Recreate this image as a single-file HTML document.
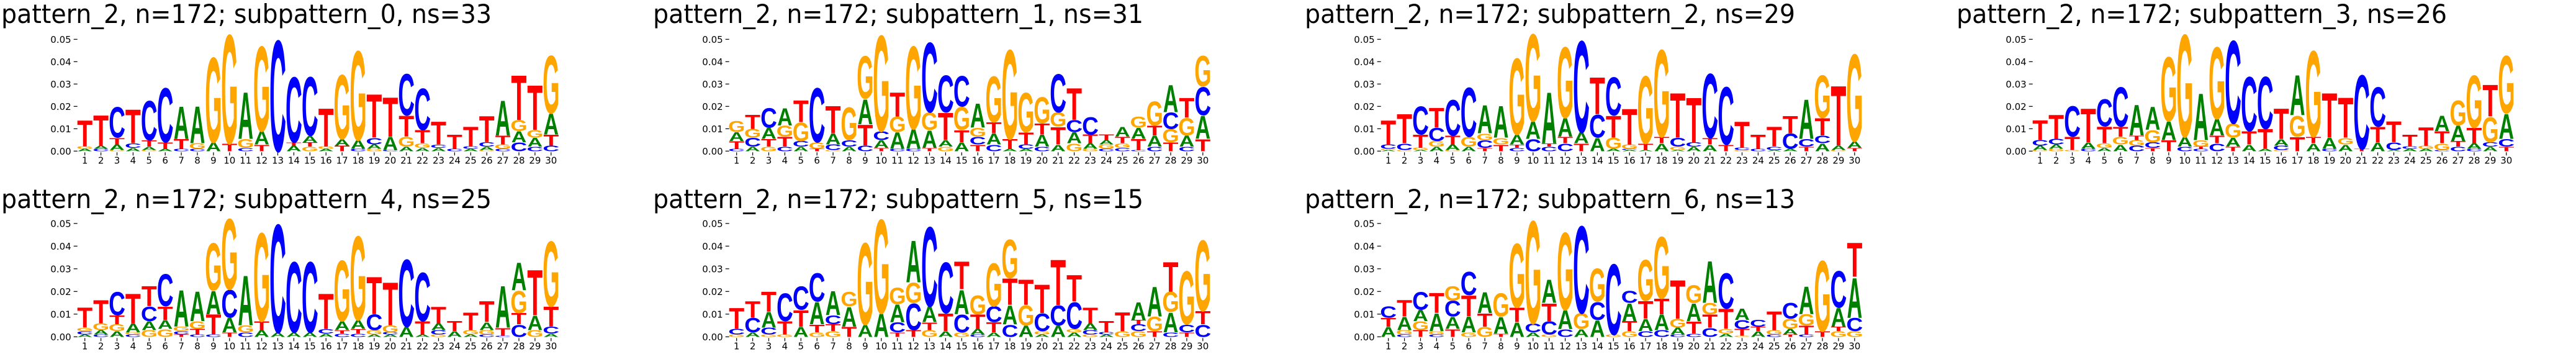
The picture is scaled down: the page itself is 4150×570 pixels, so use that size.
<!DOCTYPE html>
<html><head><meta charset="utf-8">
<style>
html,body{margin:0;padding:0;background:#fff;}
svg{display:block;}
</style></head>
<body>
<svg id="s" xmlns="http://www.w3.org/2000/svg" width="4150" height="570" viewBox="0 0 4150 570"></svg>
<script>
var P=[
"A1 G1 T12|C1 A1.5 T14|G0.5 A2.5 T3 C14|A1.5 C2 T15.5|G0.5 A1.5 T3 C18|A1 T3 C25|C1 T4.5 A15|C1 G2.5 A17|A4 G39|T3.5 G50|C1.5 G4 A21.5|T3 A6 G39|C51|A2.5 T1.5 C30|G2 T2 A3 C27|A1 G1 T17.5|T2.5 A3 G29.5|C1 A4 G41|G1 A2 C3 T20|C0.5 A6 T18|A2 G4.5 T9.5 C19|A1.5 G2 T6 C19|A1.5 C1.5 T10.5|C1 T6.5|A1 C1 T9|G0.5 A1.5 C2 T12|C1 G2 T4 A16|C4 A5 G5 T20.5|C2 A4 G3.5 T20.5|C2.5 T5 A9.5 G26.5",
"C1 T3.5 A4 G5|A2 C4 G4 T6.5|G2 T3.5 A5 C9|C2 T4.5 G5 A8|A2 C2.5 G8.5 T10|T1 G3 C25|G0.5 C2.5 A5 T12.5|A2 C3 G15|C2.5 T9.5 A11.5 G19.5|T1.5 A3.5 C4 G44|C1 A7.5 G7 T11|C1 A9 G38|T1.5 A8 G8 C32|G2 A3 T12.5 C17|A4 T5.5 G10.5 C14|T3 C3.5 G4 A11|C3 A5 T5 G21|A1 T4.5 G41|A1 C2 T5.5 G18|C2 A5.5 T5 G12|A3 T8 G6.5 C17.5|G3.5 A5 C5.5 T14.5|G1 A2.5 T4 C8|C1 G2 A2 T2.5|C1.5 G2 T3 A4.5|C0.5 T5 A5 G5|C2 A5 T4.5 G11|T4 G6 C7.5 A12.5|C2 A5 G8 T9|T5.5 A10.5 C13 G14",
"A0.5 G0.5 C2 T11|G0.5 C3 T13.5|A0.5 G1 T6 C13|A2 G2.5 C6 T9|G0.5 A2.5 T4 C16.5|A2 G4.5 C22.5|T1.5 C3.5 G3 A13|T3 G3 A14.5|C1.5 T1.5 A4.5 G35|C5.5 A8 G40|C2 T1.5 A23.5|C3.5 T3 A8.5 G32.5|T3.5 A5 C42|A6 C10.5 T17|A1 G5 T10 C17.5|A0.5 C0.5 G2 T16.5|A0.5 T3 G31|A3.5 T3 G40|A0.5 G1.5 C4 T20.5|A2 C2 T20.5|A3 T3 C29.5|T3 C26.5|G0.5 C1 T12|C1 T6.5|A0.5 C1.5 T9|A1 C7 T8|T2 C3.5 A18|A3.5 C3.5 T8 G19.5|G0.5 A2 T27.5|T1.5 A3 G40",
"G0.5 A2 C2.5 T9|G1 A2 C2.5 T11|G0.5 T6 C14|C1 A3 T15.5|A1.5 G2 T7.5 C12.5|A3 G3.5 T4.5 C18|C2.5 G2.5 T2 A14|T1.5 C2.5 G5.5 A10.5|T5 A8.5 G29.5|C2 A4.5 G47|C1 T1 G3 A21.5|C3.5 T3.5 A7.5 G33|T2 A4 G6.5 C38|A3 T6 C25|A1 T9 C24|G0.5 C2 A3 T14|T6.5 G9.5 A18.5|A3.5 T3 G39.5|C1 A5 T20.5|A3 G3 T18.5|T1 C34|A4 T7 C18|A0.5 C3.5 T9.5|A1 C1 T5.5|A1 G1.5 T8.5|C0.5 G3 T5.5 A7|C2 T2.5 A7 G11.5|C1 A2.5 T7 G24|A2 C2 G11.5 T14.5|T2 C3.5 A11.5 G26.5",
"A1 C1.5 G1.5 T9|C1 A2 G3 T10.5|A2.5 G3 T4 C10.5|C1 G1 A4 T13.5|G3 A4 C6.5 T9|G3.5 A4 T6 C14.5|T1 C1.5 G2 A16.5|C1 T2.5 G3.5 A13.5|C1 T9 A10.5 G21.5|T2 A6.5 C12.5 G32|C2 G3 A22.5|A3 T4 G40|A2 C49|A2 C32|A2 C32|A1.5 C2 T16|C1.5 T1.5 A4 G27.5|C1.5 T2 A4 G38|A1 G2 C7 T17|A1 C1 G3 T19.5|A4.5 C30.5|A1 T6 C22|G1 C2 A3 T7.5|A2.5 T4.5|A1 G2 T8|C1 G2 A3.5 T9.5|C0.5 T3.5 A19|C5.5 T5 G10 A12.5|G3 A6.5 T20.5|A1.5 C3 T9 G29.5",
"G1 C2.5 T9.5|A2 C6.5 T7.5|G1 C3 A7 T9|G1 T6 C12.5|A4.5 T7.5 C10.5|G2 T3.5 A10 C13|G2.5 T3 C4 A11|T4.5 A9 G6.5|A5.5 G37|A10.5 G42.5|T2 C4.5 A8 G7.5|T3 C12 G9 A19|G3 T3.5 A7 C36|A2.5 T8 C23|G2 C8 A11 T12.5|C1 A2.5 T6.5 G8.5|A2 T4.5 C7 G19.5|C5.5 A8.5 T12 G17.5|A5 G9 T11.5|A1 G1.5 C8 T13|A5 C9 T20.5|A2 G1.5 C12 T12|G1 C2 A3 T7|A1 C1 T5|G2.5 T8.5|G2.5 C3 T2 A8|T2.5 G6.5 A13.5|C2 A9 G9 T13.5|T2 C3.5 G24|C5.5 T6 G32",
"A4.5 T4 C5|C1 G2 A6 T7.5|T3 G4 A5 C8|C1 G1.5 A8 T9|T3.5 A5.5 C7 G6.5|G2 A7 T9.5 C10.5|G4.5 T6 A9.5|T1.5 A7.5 G10.5|A6.5 T6.5 G29|A2 C4 G46.5|G1 C6 T8 A10.5|C3.5 A8.5 G35|A3.5 G7 C39.5|A7.5 C8 G15|G1 C32|G2.5 T4.5 A8 C5.5|C2.5 A5.5 T8 G18.5|C3 A7 T7 G28|C1 A3 G4 T17.5|C1.5 T5.5 A8 G8|C4 T6 G5 A19|A1.5 G2 T9 C16|G0.5 T3 C4 A5|A2.5 T2 C3|C1 G2 T8.5|T1 A2.5 G4.5 C7|C1 T4 G5 A12.5|T2.5 G32|G2.5 T2 A8.5 C16.5|G2.5 C6 A18 T15.5"
];
var titles=["subpattern_0, ns=33","subpattern_1, ns=31","subpattern_2, ns=29","subpattern_3, ns=26","subpattern_4, ns=25","subpattern_5, ns=15","subpattern_6, ns=13"];
var col={A:"#008000",C:"#0000ff",G:"#ffa500",T:"#ff0000"};
var ink={A:72,C:66,G:70,T:60};
var out=[];
var F='font-family="DejaVu Sans, Liberation Sans, sans-serif"';
for(var k=0;k<7;k++){
  var r=k<4?0:1, c=k<4?k:k-4;
  var c1=136.7+1050*c, sp=25.9;
  var y0=r?542.3:243.3, u=r?3.65:3.6;
  var tx=c1-12;
  var tb=r?335:37;
  out.push('<text x="'+(2+1050*c)+'" y="'+tb+'" font-size="42" '+F+' textLength="790" lengthAdjust="spacingAndGlyphs" fill="#000">pattern_2, n=172; '+titles[k]+'</text>');
  for(var t=0;t<=5;t++){
    var yy=y0-t*10*u;
    out.push('<line x1="'+(tx-6)+'" x2="'+tx+'" y1="'+yy+'" y2="'+yy+'" stroke="#000" stroke-width="1.2"/>');
    out.push('<text x="'+(tx-10)+'" y="'+(yy+5.5)+'" font-size="15" text-anchor="end" '+F+' fill="#000">0.0'+t+'</text>');
  }
  var cols=P[k].split("|");
  for(var i=0;i<30;i++){
    var x=c1+i*sp;
    out.push('<line x1="'+x+'" x2="'+x+'" y1="'+(y0+2)+'" y2="'+(y0+7)+'" stroke="#000" stroke-width="1.2"/>');
    out.push('<text x="'+x+'" y="'+(y0+20)+'" font-size="15" text-anchor="middle" '+F+' fill="#000">'+(i+1)+'</text>');
    var yb=y0, parts=cols[i].split(" ");
    for(var j=0;j<parts.length;j++){
      var L=parts[j][0], h=parseFloat(parts[j].slice(1))*u;
      var sx=24.5/ink[L], sy=h/71.6;
      out.push('<text transform="translate('+x.toFixed(2)+','+yb.toFixed(2)+') scale('+sx.toFixed(4)+','+sy.toFixed(4)+')" font-size="100" font-weight="bold" text-anchor="middle" font-family="Liberation Sans, sans-serif" fill="'+col[L]+'">'+L+'</text>');
      yb-=h;
    }
  }
}
document.getElementById("s").innerHTML=out.join("");
</script>
</body></html>
